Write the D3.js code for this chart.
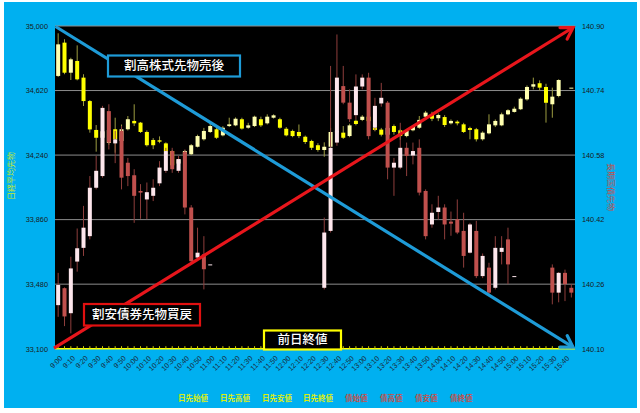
<!DOCTYPE html>
<html><head><meta charset="utf-8">
<script src="https://cdn.jsdelivr.net/npm/d3@7"></script>
<style>body{margin:0;background:#fff}svg{display:block}</style>
</head><body>
<svg id="c" width="640" height="413"></svg>
<script>
const categories = [
"9:00","9:05","9:10","9:15","9:20","9:25","9:30","9:35","9:40","9:45","9:50","9:55",
"10:00","10:05","10:10","10:15","10:20","10:25","10:30","10:35","10:40","10:45","10:50","10:55",
"11:00","11:05","11:10","11:15","11:20","11:25","11:30","11:35","11:40","11:45","11:50","11:55",
"12:00","12:05","12:10","12:15","12:20","12:25","12:30","12:35","12:40","12:45","12:50","12:55",
"13:00","13:05","13:10","13:15","13:20","13:25","13:30","13:35","13:40","13:45","13:50","13:55",
"14:00","14:05","14:10","14:15","14:20","14:25","14:30","14:35","14:40","14:45","14:50","14:55",
"15:00","15:05","15:10","15:15","15:20","15:25","15:30","15:35","15:40","15:45"];
const timeTicks = ["9:00","9:10","9:20","9:30","9:40","9:50","10:00","10:10","10:20","10:30","10:40","10:50",
"11:00","11:10","11:20","11:30","11:40","11:50","12:00","12:10","12:20","12:30","12:40","12:50",
"13:00","13:10","13:20","13:30","13:40","13:50","14:00","14:10","14:20","14:30","14:40","14:50",
"15:00","15:10","15:20","15:30","15:40"];

// 日経平均先物 (left axis)
const nkOpen = [34706,34902,34725,34794,34696,34558,34388,34342,34311,34392,34323,34392,34441,34431,34376,34329,34327,34309,34264,34190,34245,34245,34289,34333,34376,34392,34356,34411,34415,34451,34401,34411,34451,34427,34460,34451,34395,34382,34376,34348,34323,34298,34270,34289,34376,34372,34352,34442,34447,34466,34401,34390,34360,34411,34386,34352,34386,34401,34466,34480,34457,34464,34427,34437,34421,34399,34392,34333,34368,34415,34415,34480,34494,34510,34568,34643,34663,34641,34539,34588,null,34637];
const nkHigh = [34957,34922,34813,34886,34716,34564,34417,34400,34400,34460,34420,34470,34539,34435,34385,34340,34350,34315,34270,34230,34270,34305,34360,34400,34440,34405,34410,34460,34462,34460,34430,34472,34466,34480,34480,34460,34405,34390,34420,34355,34330,34310,34315,34400,34400,34411,34425,34450,34475,34475,34420,34400,34410,34420,34395,34390,34415,34470,34500,34495,34485,34475,34450,34445,34430,34407,34400,34380,34480,34450,34490,34510,34525,34580,34650,34696,34680,34660,34637,34686,null,34637];
const nkLow = [34700,34716,34682,34680,34529,34372,34260,34330,34300,34254,34310,34385,34411,34370,34290,34275,34310,34255,34165,34170,34240,34240,34285,34325,34370,34335,34350,34405,34410,34390,34395,34405,34405,34420,34455,34395,34350,34345,34340,34305,34270,34260,34230,34280,34350,34335,34345,34415,34440,34430,34380,34350,34350,34360,34330,34345,34380,34395,34460,34440,34440,34405,34420,34415,34370,34333,34320,34325,34362,34405,34410,34475,34490,34505,34560,34627,34620,34431,34460,34580,null,34637];
const nkClose = [34892,34725,34804,34686,34558,34391,34342,34380,34388,34333,34392,34451,34427,34376,34298,34298,34319,34264,34180,34215,34264,34298,34352,34382,34411,34342,34401,34421,34454,34396,34415,34466,34415,34466,34474,34401,34356,34352,34352,34317,34283,34270,34289,34376,34380,34342,34415,34423,34466,34440,34388,34360,34400,34376,34352,34382,34411,34447,34490,34454,34476,34417,34441,34427,34376,34388,34333,34372,34421,34441,34480,34504,34513,34572,34641,34657,34637,34548,34584,34682,null,34637];

// 長期国債先物 (right axis)
const bdOpen = [140.208,140.250,140.188,140.316,140.350,140.379,140.499,140.528,140.689,140.609,140.640,140.561,140.530,140.491,140.470,140.479,140.510,140.541,140.590,140.541,140.588,140.450,140.326,140.334,140.309,
null,null,null,null,null,null,null,null,null,null,null,null,null,null,null,null,null,
140.251,140.392,140.611,140.751,140.710,140.679,140.750,140.772,140.648,140.708,140.710,140.549,140.549,140.598,140.579,140.598,140.491,140.408,140.439,140.450,140.415,140.421,140.392,140.338,140.392,140.280,140.301,140.251,140.340,140.371,140.280,
null,null,null,null,null,140.301,140.239,140.288,140.251];
const bdHigh = [140.288,140.252,140.328,140.398,140.454,140.528,140.578,140.702,140.706,140.640,140.652,140.573,140.545,140.508,140.512,140.520,140.565,140.598,140.598,140.578,140.594,140.456,140.400,140.379,140.309,
null,null,null,null,null,null,null,null,null,null,null,null,null,null,null,null,null,
140.425,140.801,140.879,140.801,140.743,140.780,140.780,140.784,140.722,140.759,140.714,140.573,140.660,140.611,140.611,140.619,140.495,140.458,140.479,140.458,140.440,140.470,140.437,140.412,140.417,140.336,140.313,140.379,140.379,140.400,140.280,
null,null,null,null,null,140.309,140.290,140.296,140.260];
const bdLow = [140.179,140.156,140.138,140.291,140.330,140.371,140.495,140.524,140.594,140.560,140.495,140.503,140.412,140.422,140.421,140.466,140.503,140.536,140.536,140.536,140.433,140.308,140.322,140.247,140.309,
null,null,null,null,null,null,null,null,null,null,null,null,null,null,null,null,null,
140.247,140.388,140.603,140.706,140.662,140.669,140.743,140.619,140.640,140.700,140.520,140.479,140.545,140.528,140.557,140.480,140.371,140.400,140.420,140.371,140.380,140.384,140.301,140.336,140.275,140.275,140.233,140.247,140.309,140.260,140.280,
null,null,null,null,null,140.210,140.215,140.218,140.227];
const bdClose = [140.258,140.180,140.299,140.349,140.400,140.499,140.541,140.697,140.611,140.619,140.524,140.528,140.479,140.487,140.488,140.499,140.549,140.590,140.545,140.570,140.450,140.317,140.338,140.297,140.309,
null,null,null,null,null,null,null,null,null,null,null,null,null,null,null,null,null,
140.388,140.598,140.772,140.710,140.669,140.750,140.772,140.627,140.702,140.722,140.549,140.561,140.598,140.578,140.590,140.487,140.379,140.437,140.450,140.408,140.410,140.388,140.330,140.408,140.280,140.330,140.239,140.350,140.350,140.309,140.280,
null,null,null,null,null,140.239,140.288,140.260,140.239];

const leftTicks = [33100, 33480, 33860, 34240, 34620, 35000];
const rightTicks = [140.10, 140.26, 140.42, 140.58, 140.74, 140.90];
const legendLabels = ["日先始値","日先高値","日先安値","日先終値","債始値","債高値","債安値","債終値"];
const legendColors = ["#dcee10","#dcee10","#dcee10","#dcee10","#c0504d","#c0504d","#c0504d","#c0504d"];

const svg = d3.select("#c");
const JP = "'Noto Sans CJK JP','Noto Sans',sans-serif";
const NUM = "'Liberation Sans',Arial,sans-serif";

// background
svg.append("rect").attr("x",0).attr("y",0).attr("width",640).attr("height",413).attr("fill","#ffffff");
svg.append("rect").attr("x",4).attr("y",2).attr("width",633).attr("height",406).attr("fill","#00b0f0");

const x = d3.scaleBand().domain(categories).range([55, 574.5]).padding(0);
const yL = d3.scaleLinear().domain([33100, 35000]).range([348.7, 26]);
const yR = d3.scaleLinear().domain([140.10, 140.90]).range([348.7, 26]);
const cx = c => x(c) + x.bandwidth() / 2;
const bw = 4;

// plot area
svg.append("rect").attr("x",55).attr("y",26).attr("width",520).attr("height",322.7).attr("fill","#000");

// gridlines
svg.append("g").selectAll("line").data(leftTicks.slice(1)).join("line")
  .attr("x1",55).attr("x2",575).attr("y1",d=>yL(d)).attr("y2",d=>yL(d))
  .attr("stroke","#8c8c8c").attr("stroke-width",1);

function candles(open, high, low, close, ys, upFill, downFill, wickCol) {
  const data = categories.map((c, i) => ({c, o: open[i], h: high[i], l: low[i], cl: close[i]}))
    .filter(d => d.o != null);
  const g = svg.append("g");
  g.selectAll("line").data(data).join("line")
    .attr("x1", d => cx(d.c)).attr("x2", d => cx(d.c))
    .attr("y1", d => ys(d.h)).attr("y2", d => ys(d.l))
    .attr("stroke", wickCol).attr("stroke-width", 1);
  g.selectAll("rect").data(data).join("rect")
    .attr("x", d => cx(d.c) - bw / 2).attr("width", bw)
    .attr("y", d => ys(Math.max(d.o, d.cl)))
    .attr("height", d => Math.max(1, Math.abs(ys(d.o) - ys(d.cl))))
    .attr("fill", d => d.cl >= d.o ? upFill : downFill);
}
candles(nkOpen, nkHigh, nkLow, nkClose, yL, "#ffffb0", "#ffff00", "#9c9c40");
candles(bdOpen, bdHigh, bdLow, bdClose, yR, "#fde6ec", "#c0504d", "#8e3e3c");

// previous-close line (yellow) with small ticks
svg.append("line").attr("x1",55).attr("x2",575).attr("y1",yL(33100)).attr("y2",yL(33100))
  .attr("stroke","#ffff00").attr("stroke-width",1.6);
svg.append("g").selectAll("line").data(categories).join("line")
  .attr("x1",d=>cx(d)).attr("x2",d=>cx(d)).attr("y1",yL(33100)-2.5).attr("y2",yL(33100))
  .attr("stroke","#d0d000").attr("stroke-width",1);

// arrows
function arrow(x1, y1, x2, y2, col) {
  svg.append("line").attr("x1",x1).attr("y1",y1).attr("x2",x2).attr("y2",y2)
    .attr("stroke",col).attr("stroke-width",3.2);
  const a = Math.atan2(y2 - y1, x2 - x1), L = 13, s = 0.55;
  const p = [[x2 - L*Math.cos(a - s), y2 - L*Math.sin(a - s)], [x2, y2], [x2 - L*Math.cos(a + s), y2 - L*Math.sin(a + s)]];
  svg.append("path").attr("d", d3.line()(p)).attr("fill","none").attr("stroke",col)
    .attr("stroke-width",3.2).attr("stroke-linejoin","miter").attr("stroke-linecap","round");
}
const xr = x.range();
arrow(xr[0] + 0.5, yL(35000) + 0.5, xr[1] - 1.5, yL(33100) - 1.5, "#1e9bd7");
arrow(xr[0] - 1, yL(33100) - 0.5, xr[1] - 1.5, yL(35000) + 1.5, "#e8161c");

// annotation boxes
function box(bx, by, w, h, col, label) {
  svg.append("rect").attr("x",bx).attr("y",by).attr("width",w).attr("height",h)
    .attr("fill","#000").attr("stroke",col).attr("stroke-width",2.2);
  svg.append("text").attr("x",bx + w/2).attr("y",by + h/2 + 4.3).attr("text-anchor","middle")
    .attr("fill","#fff").attr("font-family",JP).attr("font-size",12.5).attr("font-weight",500).text(label);
}
box(108, 55.5, 132, 21, "#1e9bd7", "割高株式先物売後");
box(84, 304, 116, 21.5, "#e01010", "割安債券先物買戻");
box(264, 330.5, 77, 19, "#ffff00", "前日終値");

// axes
const axL = svg.append("g").attr("transform","translate(55,0)")
  .call(d3.axisLeft(yL).tickValues(leftTicks).tickFormat(d3.format(",")).tickSize(0).tickPadding(7));
const axR = svg.append("g").attr("transform","translate(575,0)")
  .call(d3.axisRight(yR).tickValues(rightTicks).tickFormat(d3.format(".2f")).tickSize(0).tickPadding(7));
const axB = svg.append("g").attr("transform","translate(0,351)")
  .call(d3.axisBottom(x).tickValues(timeTicks).tickSize(0).tickPadding(0));
[axL, axR, axB].forEach(a => {
  a.select(".domain").remove();
  a.selectAll("text").attr("font-family",NUM).attr("fill","#1a1a1a").attr("font-size",7.3);
});
axB.selectAll("text").attr("text-anchor","end").attr("dy","0.35em").attr("dx",0).attr("y",0)
  .attr("transform","translate(3,6) rotate(-45)").attr("font-size",7.2).attr("fill","#1a2a3a");

// axis titles
svg.append("text").attr("transform","translate(14,176) rotate(-90)").attr("text-anchor","middle")
  .attr("font-family",JP).attr("font-size",8).attr("fill","#c6e82a").text("日経平均先物");
svg.append("text").attr("transform","translate(608,187) rotate(90)").attr("text-anchor","middle")
  .attr("font-family",JP).attr("font-size",8).attr("fill","#c0504d").text("長期国債先物");

// legend
const legX = [178, 220, 262, 303, 345, 380, 415, 450];
svg.append("g").selectAll("text").data(legendLabels).join("text")
  .attr("x",(d,i)=>legX[i]).attr("y",401).attr("font-family",JP).attr("font-size",7.5)
  .attr("font-weight",700).attr("fill",(d,i)=>legendColors[i]).text(d=>d);
</script>
</body></html>
